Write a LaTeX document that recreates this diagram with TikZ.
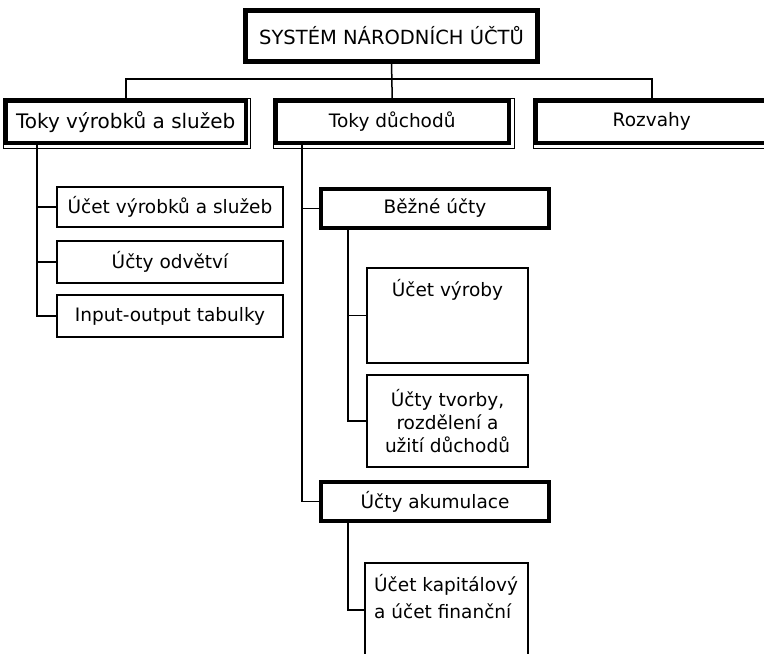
\documentclass[tikz,border=0pt]{standalone}
\usepackage{fontspec}
\setmainfont{DejaVu Sans}
\usetikzlibrary{positioning}
\tikzstyle{topbox} = [rectangle, draw, line width=5pt, outer sep=0pt,
    minimum width=292pt, minimum height=51pt, font=\fontsize{19.5}{23}\selectfont]
\tikzstyle{headbox} = [rectangle, draw, line width=4pt, outer sep=0pt,
    minimum height=42.5pt, font=\fontsize{18.5}{23}\selectfont]
\tikzstyle{subhead} = [rectangle, draw, line width=4pt, outer sep=0pt,
    minimum width=228pt, minimum height=39pt, font=\fontsize{18.5}{23}\selectfont]
\tikzstyle{leaf} = [rectangle, draw, line width=1.5pt, outer sep=0pt, align=center,
    font=\fontsize{18.5}{23}\selectfont]
\tikzstyle{txt} = [inner sep=0pt, font=\fontsize{18.5}{27}\selectfont]
\tikzstyle{line} = [draw, line width=1.5pt]
\tikzstyle{frame} = [draw, line width=1pt]

\begin{document}
\begin{tikzpicture}[x=1pt,y=-1pt]
    \path[use as bounding box, fill=white] (0,0) rectangle (764,654);
    % Place nodes
    \node[topbox] (sys) at (391.5,35.5) {SYSTÉM NÁRODNÍCH ÚČTŮ};
    \node[headbox, minimum width=239.5pt, font=\fontsize{20}{23}\selectfont] (tvs) at (125.75,121.75) {Toky výrobků a služeb};
    \node[headbox, minimum width=233.5pt] (tdu) at (392.25,121.75) {Toky důchodů};
    \node[headbox, minimum width=232.5pt] (roz) at (651.75,121.75) {Rozvahy};
    \node[leaf, minimum width=226pt, minimum height=40pt] (c1) at (170,207) {Účet výrobků a služeb};
    \node[leaf, minimum width=226pt, minimum height=42pt] (c2) at (170,262) {Účty odvětví};
    \node[leaf, minimum width=226pt, minimum height=42pt] (c3) at (170,316) {Input-output tabulky};
    \node[subhead] (bez) at (435,208.5) {Běžné účty};
    \node[leaf, minimum width=161pt, minimum height=95pt] (vyr) at (447.5,315.5) {};
    \node[txt, below=11pt of vyr.north] (vyrt) {Účet výroby};
    \node[leaf, minimum width=161pt, minimum height=92pt] (tvo) at (447.5,421) {Účty tvorby,\\rozdělení a\\užití důchodů};
    \node[subhead] (aku) at (435,501.5) {Účty akumulace};
    \node[leaf, minimum width=163pt, minimum height=94pt] (kap) at (446.5,610) {};
    \node[txt, align=left, anchor=north west] (kapt) at ([shift={(9,11)}]kap.north west) {Účet kapitálový\\a účet finanční};
    \foreach \n in {tvs,tdu,roz}
        \draw[frame] ([shift={(-2.5,-2.5)}]\n.north west) rectangle ([shift={(5,5)}]\n.south east);
    % Draw edges
    \coordinate (bus) at (391.5,79);
    \coordinate (lsp) at (37,0);
    \coordinate (msp) at (302,0);
    \coordinate (ssp) at (348,0);
    \path [line] (sys.south) -- (tdu.north);
    \path [line] (tvs.north) |- (bus) -| (roz.north);
    \path [line] (tvs.south -| lsp) |- (c3.west);
    \path [line] (c1.west) -- (c1.west -| lsp);
    \path [line] (c2.west) -- (c2.west -| lsp);
    \path [line] (tdu.south -| msp) |- (aku.west);
    \path [line] (bez.west) -- (bez.west -| msp);
    \path [line] (bez.south -| ssp) |- (tvo.west);
    \path [line] (vyr.west) -- (vyr.west -| ssp);
    \path [line] (aku.south -| ssp) |- (kap.west);
\end{tikzpicture}
\end{document}
